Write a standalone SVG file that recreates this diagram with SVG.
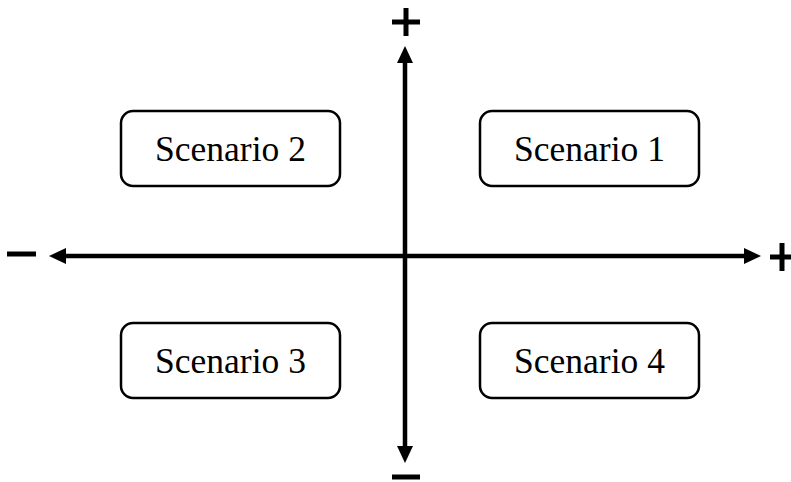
<svg xmlns="http://www.w3.org/2000/svg" width="791" height="482" viewBox="0 0 791 482">
  <style>
    .box { fill: #ffffff; stroke: #000000; stroke-width: 2.5; }
    .label { font-family: "Liberation Serif", "Times New Roman", serif; font-size: 35.5px; fill: #000000; text-anchor: middle; }
    .axis { stroke: #000000; stroke-width: 4.5; fill: none; }
    .sign { stroke: #000000; stroke-width: 5; fill: none; }
  </style>
  <rect width="791" height="482" fill="#ffffff"/>

  <g id="connectors">
    <!-- vertical axis -->
    <line class="axis" x1="405" y1="60" x2="405" y2="450"/>
    <polygon points="405,46 397,63 413,63" fill="#000"/>
    <polygon points="405,463 397,446 413,446" fill="#000"/>
    <!-- horizontal axis -->
    <line class="axis" x1="62" y1="256" x2="748" y2="256"/>
    <polygon points="49,256 66,248 66,264" fill="#000"/>
    <polygon points="761,256 744,248 744,264" fill="#000"/>
  </g>

  <g id="signs">
    <!-- top plus -->
    <line class="sign" x1="392" y1="22" x2="420" y2="22"/>
    <line class="sign" x1="406" y1="8" x2="406" y2="36"/>
    <!-- bottom minus -->
    <line class="sign" x1="392" y1="477" x2="420" y2="477"/>
    <!-- left minus -->
    <line class="sign" x1="7" y1="254" x2="36" y2="254"/>
    <!-- right plus -->
    <line class="sign" x1="770" y1="257" x2="791" y2="257"/>
    <line class="sign" x1="782" y1="243" x2="782" y2="271"/>
  </g>

  <g id="scenario1">
    <rect class="box" x="480" y="111" width="219" height="75" rx="12"/>
    <text class="label" x="589.5" y="161">Scenario 1</text>
  </g>
  <g id="scenario2">
    <rect class="box" x="121" y="111" width="219" height="75" rx="12"/>
    <text class="label" x="230.5" y="161">Scenario 2</text>
  </g>
  <g id="scenario3">
    <rect class="box" x="121" y="323" width="219" height="75" rx="12"/>
    <text class="label" x="230.5" y="373">Scenario 3</text>
  </g>
  <g id="scenario4">
    <rect class="box" x="480" y="323" width="219" height="75" rx="12"/>
    <text class="label" x="589.5" y="373">Scenario 4</text>
  </g>
</svg>
